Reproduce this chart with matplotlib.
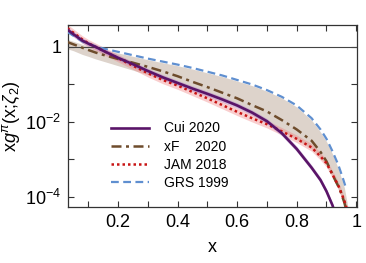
import numpy as np
import matplotlib
matplotlib.use("Agg")
import matplotlib.pyplot as plt
from matplotlib.ticker import FixedLocator, FuncFormatter

plt.rcParams['font.family'] = ['Liberation Sans', 'DejaVu Sans']
plt.rcParams['mathtext.fontset'] = 'custom'
plt.rcParams['mathtext.rm'] = 'Liberation Sans'
plt.rcParams['mathtext.it'] = 'Liberation Sans:italic'

# log10 of x g(x)
x_cui = [0.03, 0.05, 0.08, 0.1, 0.125, 0.15, 0.2, 0.25, 0.3, 0.35, 0.4, 0.45, 0.5,
         0.55, 0.6, 0.65, 0.7, 0.75, 0.8, 0.85, 0.88, 0.9, 0.92, 0.94]
lg_cui = [0.46, 0.34, 0.17, 0.09, 0.0, -0.1, -0.29, -0.46, -0.64, -0.81, -0.96, -1.11, -1.25,
          -1.4, -1.56, -1.75, -1.98, -2.3, -2.72, -3.22, -3.55, -3.85, -4.22, -4.7]

x_jam = [0.03, 0.05, 0.08, 0.1, 0.125, 0.15, 0.2, 0.25, 0.3, 0.35, 0.4, 0.45, 0.5,
         0.55, 0.6, 0.65, 0.7, 0.75, 0.8, 0.85, 0.88, 0.9, 0.92, 0.94, 0.96, 0.975]
lg_jam = [0.5, 0.38, 0.2, 0.1, 0.0, -0.1, -0.3, -0.5, -0.7, -0.88, -1.03, -1.2, -1.37,
          -1.55, -1.73, -1.9, -2.06, -2.25, -2.45, -2.68, -2.92, -3.1, -3.4, -3.7, -4.1, -4.5]

x_xf = [0.03, 0.05, 0.08, 0.1, 0.125, 0.15, 0.2, 0.25, 0.3, 0.35, 0.4, 0.45, 0.5,
        0.55, 0.6, 0.65, 0.7, 0.75, 0.8, 0.85, 0.88, 0.9, 0.92, 0.945, 0.96, 0.975]
lg_xf = [0.13, 0.07, -0.02, -0.08, -0.15, -0.21, -0.32, -0.42, -0.53, -0.65, -0.78, -0.93, -1.07,
         -1.22, -1.37, -1.55, -1.72, -1.95, -2.2, -2.5, -2.8, -3.05, -3.4, -3.8, -4.15, -4.6]

x_grs = [0.03, 0.05, 0.08, 0.1, 0.13, 0.15, 0.2, 0.25, 0.3, 0.35, 0.4, 0.45, 0.5,
         0.55, 0.6, 0.65, 0.7, 0.75, 0.8, 0.85, 0.88, 0.9, 0.92, 0.94, 0.955, 0.965]
lg_grs = [0.4, 0.3, 0.15, 0.08, 0.0, -0.04, -0.13, -0.22, -0.31, -0.39, -0.47, -0.56, -0.66,
          -0.76, -0.88, -1.0, -1.15, -1.33, -1.56, -1.9, -2.2, -2.45, -2.78, -3.15, -3.5, -3.75]

# xF uncertainty band
x_band = [0.03, 0.05, 0.08, 0.1, 0.125, 0.15, 0.2, 0.25, 0.3, 0.35, 0.4, 0.45, 0.5,
          0.55, 0.6, 0.65, 0.7, 0.75, 0.8, 0.85, 0.88, 0.9, 0.92, 0.94, 0.96, 0.975, 0.985]
lg_band_lo = [-0.05, -0.1, -0.2, -0.25, -0.32, -0.38, -0.5, -0.62, -0.74, -0.86, -0.98, -1.12, -1.26,
              -1.42, -1.6, -1.8, -2.02, -2.24, -2.47, -2.72, -2.96, -3.15, -3.45, -3.8, -4.2, -4.6, -5.0]
lg_band_hi = [0.2, 0.15, 0.07, 0.02, -0.04, -0.08, -0.16, -0.25, -0.34, -0.42, -0.5, -0.59, -0.69,
              -0.79, -0.91, -1.03, -1.18, -1.36, -1.6, -1.95, -2.27, -2.52, -2.85, -3.25, -3.75, -4.4, -5.0]

jam_err = 0.1
cui_err = 0.07

labels = ["Cui 2020", "xF    2020", "JAM 2018", "GRS 1999"]

fig = plt.figure(figsize=(3.66, 2.63), dpi=100)
ax = fig.add_axes([0.186, 0.213, 0.789, 0.692])

ax.fill_between(x_band, 10**np.array(lg_band_lo), 10**np.array(lg_band_hi),
                color='#ddd3cb', lw=0, zorder=1)
ax.fill_between(x_jam, 10**(np.array(lg_jam) - jam_err), 10**(np.array(lg_jam) + jam_err),
                color='#f08080', alpha=0.38, lw=0, zorder=2)
ax.fill_between(x_cui, 10**(np.array(lg_cui) - cui_err), 10**(np.array(lg_cui) + cui_err),
                color='#b48cc8', alpha=0.55, lw=0, zorder=2)

ax.axhline(1, color='#444444', lw=0.8, zorder=3)

ax.plot(x_grs, 10**np.array(lg_grs), color='#5f8fd0', lw=1.6, ls=(0, (3.5, 2)),
        label=labels[3], zorder=4)
ax.plot(x_xf, 10**np.array(lg_xf), color='#6e4c2c', lw=1.8, ls=(0, (4, 1.8, 1.2, 1.8)),
        label=labels[1], zorder=5)
ax.plot(x_jam, 10**np.array(lg_jam), color='#c81414', lw=1.8, ls=(0, (1, 1.2)),
        label=labels[2], zorder=6)
ax.plot(x_cui, 10**np.array(lg_cui), color='#5a1468', lw=1.9,
        label=labels[0], zorder=7)

ax.set_yscale('log')
ax.set_xlim(0.032, 1.002)
ax.set_ylim(5.4e-5, 3.86)

ax.xaxis.set_major_locator(FixedLocator(np.arange(0.1, 1.01, 0.1)))
ax.xaxis.set_major_formatter(FuncFormatter(
    lambda v, p: '' if round(v * 10) % 2 else ('1' if abs(v - 1) < 1e-6 else f'{v:.1f}')))
ax.yaxis.set_major_locator(FixedLocator([1e-4, 1e-3, 1e-2, 1e-1, 1]))
ax.yaxis.set_minor_locator(FixedLocator([]))
ax.yaxis.set_major_formatter(FuncFormatter(
    lambda v, p: {1.0: '1', 1e-2: r'$10^{-2}$', 1e-4: r'$10^{-4}$'}.get(
        float(f'{v:.0e}'), '')))

ax.tick_params(direction='in', top=True, right=True, length=4, width=0.8,
               labelsize=13, color='#333333', pad=5)
for s in ax.spines.values():
    s.set_color('#333333')
    s.set_linewidth(0.9)

ax.set_xlabel('x', fontsize=13, labelpad=6)
ax.set_ylabel(r'x$g^{\pi}$(x;$\zeta_2$)', fontsize=13, labelpad=2)

h, l = ax.get_legend_handles_labels()
order = [3, 1, 2, 0]
ax.legend([h[i] for i in order], [l[i] for i in order], loc='upper left',
          bbox_to_anchor=(0.15, 0.47), frameon=False, fontsize=10, borderpad=0,
          borderaxespad=0, handlelength=2.7, handletextpad=1.1, labelspacing=0.3)

fig.savefig('out.png', dpi=100)
